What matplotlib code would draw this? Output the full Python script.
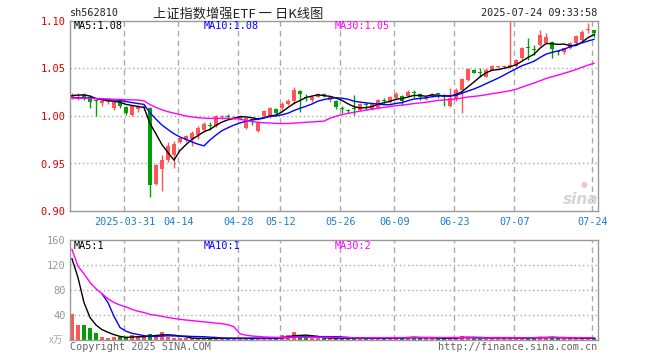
import numpy as np
import pandas as pd
import matplotlib
matplotlib.use("Agg")
import matplotlib.pyplot as plt

# daily K data, 2025-03-18 .. 2025-07-24 (88 trading days)
open_p = [1.020, 1.018, 1.022, 1.020, 1.016, 1.014, 1.015, 1.008, 1.016, 1.010,
          1.001, 1.007, 1.008, 1.008, 0.928, 0.944, 0.954, 0.959, 0.973, 0.975,
          0.976, 0.980, 0.985, 0.990, 0.989, 0.999, 1.000, 0.998, 0.997, 0.987,
          0.9965, 0.984, 1.000, 0.999, 1.007, 1.008, 1.013, 1.016, 1.0265, 1.020,
          1.0168, 1.0203, 1.0225, 1.017, 1.016, 1.0082, 1.006, 1.0075, 1.0065, 1.013,
          1.0065, 1.008, 1.016, 1.015, 1.0185, 1.021, 1.021, 1.0245, 1.023, 1.018,
          1.021, 1.024, 1.0205, 1.0105, 1.0175, 1.0275, 1.038, 1.0485, 1.046, 1.0415,
          1.0485, 1.0515, 1.052, 1.052, 1.0525, 1.061, 1.0718, 1.070, 1.0747, 1.077,
          1.078, 1.068, 1.0677, 1.072, 1.0765, 1.080, 1.090, 1.0905]
high_p = [1.024, 1.0245, 1.024, 1.022, 1.017, 1.018, 1.017, 1.017, 1.017, 1.011,
          1.012, 1.012, 1.012, 1.009, 0.949, 0.959, 0.973, 0.974, 0.978, 0.980,
          0.984, 0.989, 0.994, 0.994, 1.001, 1.001, 1.002, 1.000, 1.000, 0.999,
          0.998, 0.995, 1.006, 1.009, 1.008, 1.0145, 1.018, 1.031, 1.027, 1.023,
          1.021, 1.0245, 1.024, 1.021, 1.017, 1.010, 1.0075, 1.022, 1.014, 1.015,
          1.014, 1.018, 1.019, 1.021, 1.025, 1.022, 1.027, 1.027, 1.024, 1.0205,
          1.0245, 1.0245, 1.023, 1.029, 1.029, 1.040, 1.050, 1.049, 1.050, 1.050,
          1.054, 1.053, 1.054, 1.0995, 1.060, 1.073, 1.082, 1.075, 1.091, 1.087,
          1.079, 1.0695, 1.072, 1.078, 1.085, 1.090, 1.0975, 1.091]
low_p = [1.018, 1.017, 1.017, 1.008, 1.000, 1.010, 1.013, 1.0065, 1.008, 1.001,
         1.000, 1.004, 1.006, 0.915, 0.927, 0.921, 0.952, 0.945, 0.972, 0.973,
         0.968, 0.976, 0.983, 0.985, 0.988, 0.997, 0.997, 0.997, 0.996, 0.986,
         0.991, 0.983, 0.999, 0.998, 1.002, 1.0055, 1.012, 1.013, 1.0045, 1.016,
         1.015, 1.020, 1.020, 1.015, 1.007, 1.003, 1.003, 1.001, 1.005, 1.006,
         1.006, 1.007, 1.013, 1.0135, 1.017, 1.0115, 1.020, 1.019, 1.017, 1.017,
         1.020, 1.019, 1.010, 1.0095, 1.016, 1.003, 1.037, 1.045, 1.0415, 1.041,
         1.048, 1.050, 1.051, 1.051, 1.052, 1.059, 1.059, 1.064, 1.074, 1.076,
         1.0607, 1.064, 1.065, 1.071, 1.075, 1.079, 1.087, 1.0835]
close_p = [1.022, 1.020, 1.019, 1.015, 1.0155, 1.016, 1.0155, 1.015, 1.011, 1.0035,
           1.0105, 1.010, 1.010, 0.927, 0.948, 0.954, 0.968, 0.971, 0.977, 0.979,
           0.9825, 0.987, 0.992, 0.989, 1.000, 1.000, 0.999, 0.999, 0.999, 0.998,
           0.996, 0.993, 1.005, 1.008, 1.003, 1.0125, 1.016, 1.027, 1.023, 1.019,
           1.0197, 1.0232, 1.022, 1.0197, 1.010, 1.0075, 1.005, 1.007, 1.013, 1.0115,
           1.013, 1.017, 1.0155, 1.020, 1.023, 1.016, 1.0255, 1.024, 1.0195, 1.019,
           1.0235, 1.0235, 1.020, 1.0185, 1.0275, 1.0385, 1.049, 1.0455, 1.0455, 1.0485,
           1.0525, 1.052, 1.0525, 1.0535, 1.059, 1.0715, 1.0715, 1.0695, 1.0853, 1.0835,
           1.071, 1.0675, 1.0713, 1.077, 1.084, 1.0887, 1.0915, 1.087]
# volume, 万
volume = [42, 24, 24, 19, 11, 5, 3, 5, 5, 3,
          8, 5, 5, 10, 8, 13, 5, 3, 2.5, 2.5,
          2.5, 3, 3, 2.5, 3.5, 2.5, 2.5, 2.5, 2.5, 3,
          2.5, 3, 3, 3.5, 2.5, 8, 8, 13, 5, 5,
          3, 3, 2.5, 2.5, 3.5, 2.5, 2.5, 4, 3, 2.5,
          3, 3, 2.5, 5.5, 3, 3, 5.5, 5.5, 3, 2.5,
          3, 2.5, 3, 3.5, 4.5, 6.5, 4, 3, 2.5, 3,
          5.5, 3, 2.5, 3.5, 3.5, 3, 5.5, 3, 5.5, 3,
          5.5, 3, 2.5, 3, 3, 3.5, 3, 3]

# moving averages before their window fills (history before the visible range)
ma5_head = [1.0215, 1.0220, 1.0222, 1.0210]
ma10_head = [1.0195, 1.0192, 1.019, 1.0188, 1.0185, 1.018, 1.0175, 1.017, 1.0165]
ma30_head = [1.0190, 1.0188, 1.0186, 1.0184, 1.0182, 1.018, 1.0178, 1.0176, 1.0174, 1.0172,
             1.017, 1.0168, 1.0160, 1.0120, 1.0090, 1.0065, 1.0045, 1.0030, 1.0015, 1.0000,
             0.9990, 0.9982, 0.9977, 0.9975, 0.9975, 0.9975, 0.9975, 0.9972, 0.9968]
vma5_head = [130, 100, 60, 36]
vma10_head = [np.nan, np.nan, np.nan, np.nan, np.nan, 74, 60, 38, 20]
vma30_head = [145, 118, 106, 92, 82, 74, 66, 60, 56, 53,
              49, 46, 44, 41, 39.5, 38, 36, 34.5, 33, 32,
              31, 30, 29, 28, 27, 26, 24.5, 21, 10]

tick_idx = [9, 18, 28, 35, 45, 54, 64, 74, 87]
tick_labels = ["2025-03-31", "04-14", "04-28", "05-12", "05-26",
               "06-09", "06-23", "07-07", "07-24"]
ma_labels = ["MA5:1.08", "MA10:1.08", "MA30:1.05"]
vma_labels = ["MA5:1", "MA10:1", "MA30:2"]

RED = "#ff5555"
GREEN = "#00a000"
GRID = "#aaaaaa"
MA_COLORS = ["black", "#0000ff", "#ff00ff"]
MONO = "DejaVu Sans Mono"


def moving_average(values, n, head):
    ma = pd.Series(values, dtype=float).rolling(n).mean().to_numpy()
    ma[:len(head)] = head
    return ma


def style_axis(ax):
    for side in ax.spines.values():
        side.set_color("#999999")
        side.set_linewidth(1)
    for i in tick_idx:
        ax.axvline(i - 0.25, color=GRID, lw=1, ls=(0, (4, 3)), zorder=0)
    ax.set_xlim(-0.33, 87.67)


def ftext(x, y, s, **kw):
    fig.text(x / 660, 1 - y / 360, s, va="center", **kw)


o = np.array(open_p)
h = np.array(high_p)
l = np.array(low_p)
c = np.array(close_p)
v = np.array(volume, dtype=float)
x = np.arange(len(c))
colors = np.where(c >= o, RED, GREEN)

fig = plt.figure(figsize=(6.6, 3.6), dpi=100)
ax = fig.add_axes([70 / 660, 149 / 360, 528 / 660, 190 / 360])
axv = fig.add_axes([70 / 660, 20 / 360, 528 / 660, 100 / 360])

# price panel
style_axis(ax)
ax.set_ylim(0.90, 1.10)
for lvl in [0.95, 1.00, 1.05]:
    ax.axhline(lvl, color=GRID, lw=1, ls=(0, (1, 2)), zorder=0)
ax.vlines(x, l, h, colors=colors, lw=1, zorder=2)
ax.bar(x, np.maximum(np.abs(c - o), 0.0011), 0.8, bottom=np.minimum(o, c),
       color=colors, lw=0, zorder=3)
for n, head, col in zip([5, 10, 30], [ma5_head, ma10_head, ma30_head], MA_COLORS):
    ax.plot(x, moving_average(c, n, head), color=col, lw=1, zorder=4)
ax.set_yticks([0.90, 0.95, 1.00, 1.05, 1.10])
ax.set_yticklabels(["%.2f" % t for t in ax.get_yticks()], color="#e00000",
                   fontsize=7.5, family=MONO)
ax.set_xticks([i - 0.25 for i in tick_idx])
ax.set_xticklabels(tick_labels, color="#1a7fd0", fontsize=7.3, family=MONO)
ax.tick_params(length=0, pad=3)
ax.tick_params(axis="x", pad=4)

# volume panel
style_axis(axv)
axv.set_ylim(0, 160)
for lvl in [40, 80, 120]:
    axv.axhline(lvl, color=GRID, lw=1, ls=(0, (1, 2)), zorder=0)
axv.bar(x, v, 0.8, color=colors, lw=0, zorder=2)
for n, head, col in zip([5, 10, 30], [vma5_head, vma10_head, vma30_head], MA_COLORS):
    axv.plot(x, moving_average(v, n, head), color=col, lw=1, zorder=4)
axv.set_yticks([40, 80, 120, 160])
axv.set_yticklabels(["40", "80", "120", "160"], color="#999999", fontsize=7.5, family=MONO)
axv.set_xticks([])
axv.tick_params(length=0, pad=3)

# texts
ftext(70, 13, "sh562810", family=MONO, fontsize=7.3, color="#222222")
ftext(238, 14, "上证指数增强ETF 一 日K线图", family=["Noto Sans CJK SC", "DejaVu Sans"],
      fontsize=9.5, color="#222222", ha="center")
ftext(597, 13, "2025-07-24 09:33:58", family=MONO, fontsize=7.3, color="#222222", ha="right")
for xp, s, col in zip([74, 204, 335], ma_labels, MA_COLORS):
    ftext(xp, 26, s, family=MONO, fontsize=7.3, color=col)
for xp, s, col in zip([74, 204, 335], vma_labels, MA_COLORS):
    ftext(xp, 246, s, family=MONO, fontsize=7.3, color=col)
ftext(49, 340, "x万", family=["Noto Sans CJK SC", "DejaVu Sans"], fontsize=7,
      color="#aaaaaa", style="italic")
ftext(70, 347, "Copyright 2025 SINA.COM", family=MONO, fontsize=7.3, color="#666666")
ftext(597, 347, "http://finance.sina.com.cn", family=MONO, fontsize=7.3, color="#666666",
      ha="right")
ftext(581, 199, "sina", family="DejaVu Sans", fontsize=11, color="#d4d4d4",
      style="italic", weight="bold", ha="center")
ftext(584, 185, "●", family="DejaVu Sans", fontsize=5.5, color="#f2c4c4", ha="center")

fig.savefig("out.png", dpi=100)
